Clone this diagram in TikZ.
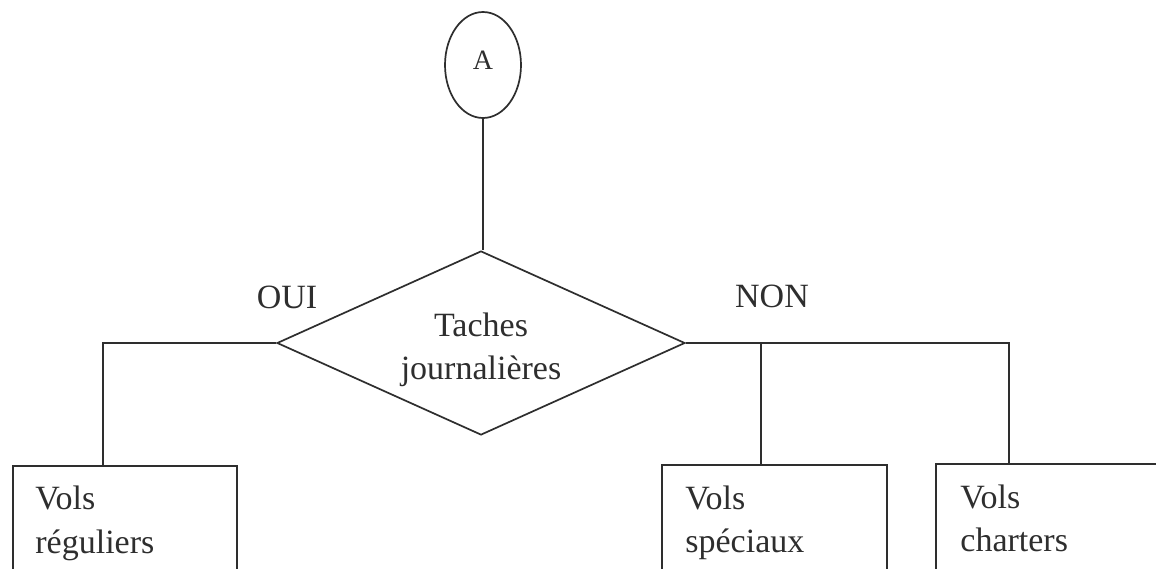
\documentclass[tikz,border=0pt]{standalone}
\usepackage{fontspec}
\setmainfont{Liberation Serif}
\usetikzlibrary{shapes.geometric}
\definecolor{ink}{gray}{0.18}
\tikzset{
  conn/.style={draw=ink, line width=0.85pt},
  shapeline/.style={draw=ink, line width=0.85pt},
  bigtext/.style={text=ink, font=\fontsize{17}{21.5}\selectfont, inner sep=0pt},
  boxtext/.style={bigtext, anchor=north west, align=left},
  flightbox/.style={shapeline, rectangle, anchor=north west, inner sep=0pt}
}
\begin{document}
\begin{tikzpicture}[x=0.5pt, y=-0.5pt]
  \useasboundingbox (0,0) rectangle (1156,568);
  \fill[white] (0,0) rectangle (1156,568);
  \clip (0,0) rectangle (1156,568);

  % connector start
  \node[ellipse, shapeline, minimum width=38pt, minimum height=53pt, inner sep=0pt,
        text=ink, font=\fontsize{14}{16}\selectfont] (A) at (483,65) {\raisebox{5pt}{A}};

  % decision
  \node[diamond, shapeline, aspect=2.2, minimum width=204pt, minimum height=92pt,
        inner sep=0pt] (d) at (481,343) {};
  \node[bigtext, align=center] (dt) at ([yshift=-3.5pt]d.center) {Taches\\journalières};

  % labels
  \node[bigtext, anchor=base] (oui) at (287,308) {OUI};
  \node[bigtext, anchor=base] (non) at (772,307) {NON};

  % boxes
  \node[flightbox, minimum width=112pt, minimum height=70pt] (b1) at (12,465) {};
  \node[flightbox, minimum width=112.5pt, minimum height=70pt] (b2) at (661,464) {};
  \node[flightbox, minimum width=125pt, minimum height=70pt] (b3) at (935,463) {};

  \node[boxtext] (t1) at ([xshift=11.5pt, yshift=-10.5pt]b1.north west) {Vols\\réguliers};
  \node[boxtext] (t2) at ([xshift=12pt, yshift=-10.5pt]b2.north west) {Vols\\spéciaux};
  \node[boxtext] (t3) at ([xshift=12.5pt, yshift=-10.5pt]b3.north west) {Vols\\charters};

  % junction points on the box tops
  \coordinate (j1) at (103,465);
  \coordinate (j2) at (761,464);
  \coordinate (j3) at (1009,463);

  % connectors
  \draw[conn] (A.south) -- (A.south |- d.north);
  \draw[conn] (d.west) -| (j1);
  \draw[conn] (d.east) -| (j3);
  \draw[conn] (j2 |- d.east) -- (j2);
\end{tikzpicture}
\end{document}
